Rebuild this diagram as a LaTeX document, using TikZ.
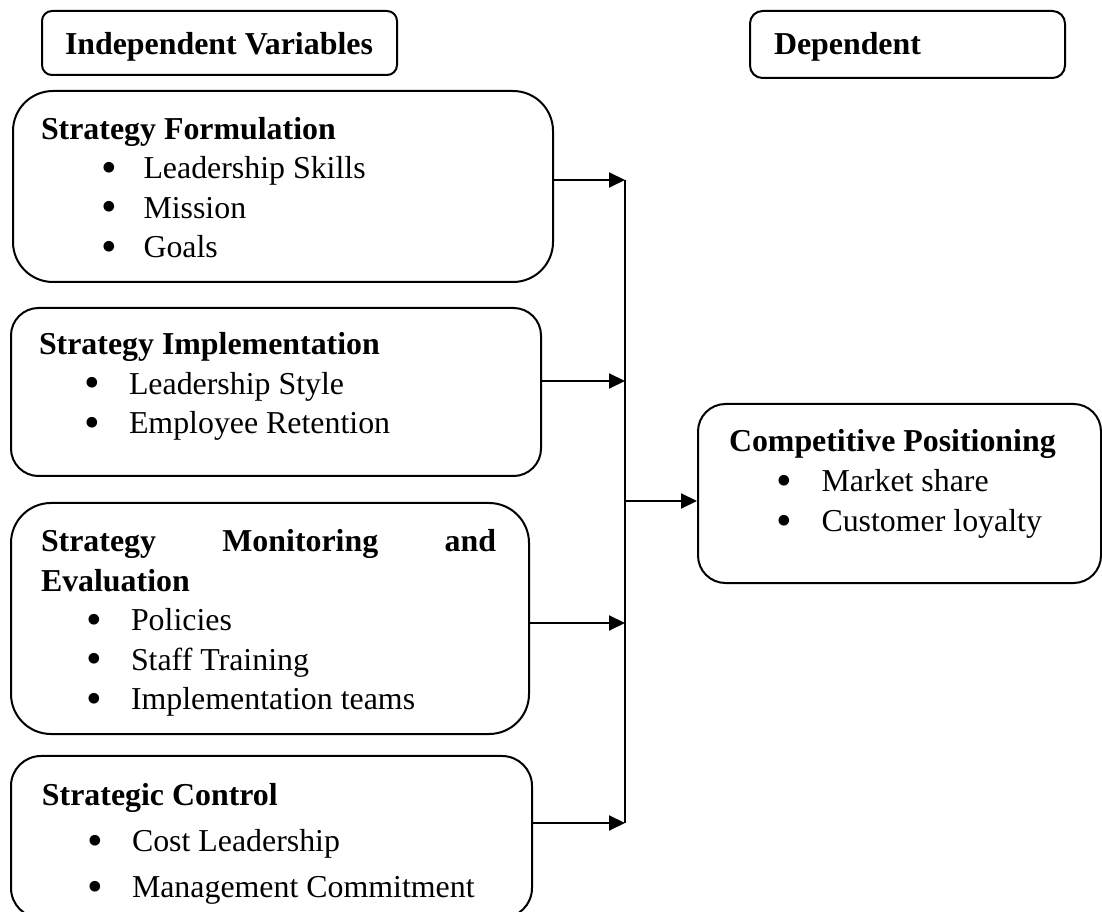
\documentclass[tikz,border=0pt]{standalone}
\usepackage{fontspec}
\setmainfont{Liberation Serif}
\usetikzlibrary{arrows.meta}

% bullet line: indent, gap to text, text
\newcommand{\bitem}[3]{\hspace*{#1}\makebox[#2][l]{\raisebox{-0.1em}[0.45em][0pt]{\scalebox{1.4}{\textbullet}}}#3}

\begin{document}
\begin{tikzpicture}[x=0.4pt, y=-0.4pt, line width=0.8pt,
  roundbox/.style={draw, rounded corners=#1, anchor=north west, inner sep=0pt},
  boxtext/.style={anchor=base west, inner sep=0pt, align=left, font=\fontsize{12.75}{15.8}\selectfont},
  headtext/.style={anchor=base west, inner sep=0pt, font=\fontsize{12.75}{15}\selectfont\bfseries},
  feed/.style={-{Triangle[length=6.4pt, width=6pt]}}]
\useasboundingbox (0,0) rectangle (1102,912);

% headings
\node[roundbox=4pt, minimum width=142pt, minimum height=25.6pt] (indep) at (41,10) {};
\node[headtext] (indep-t) at (64,55) {Independent Variables};
\node[roundbox=5pt, minimum width=126pt, minimum height=26.8pt] (dep) at (749,10) {};
\node[headtext] (dep-t) at (773,55) {Dependent};

% independent variables (text placed by the baseline of its last line)
\node[roundbox=16pt, minimum width=216pt, minimum height=76.4pt] (sf) at (12,90) {};
\node[boxtext] (sf-t) at (40,258) {\textbf{Strategy Formulation}\\
  \bitem{24pt}{17pt}{Leadership Skills}\\
  \bitem{24pt}{17pt}{Mission}\\
  \bitem{24pt}{17pt}{Goals}};

\node[roundbox=11pt, minimum width=212pt, minimum height=67.2pt] (si) at (10,307) {};
\node[boxtext] (si-t) at (38,434) {\textbf{Strategy Implementation}\\
  \bitem{18pt}{18pt}{Leadership Style}\\
  \bitem{18pt}{18pt}{Employee Retention}};

\node[roundbox=16pt, minimum width=207.2pt, minimum height=92.4pt] (sm) at (10,502) {};
\node[boxtext] (sm-t) at (40,710) {\textbf{\makebox[182pt]{Strategy\hfill Monitoring\hfill and}}\\
  \textbf{Evaluation}\\
  \bitem{18pt}{18pt}{Policies}\\
  \bitem{18pt}{18pt}{Staff Training}\\
  \bitem{18pt}{18pt}{Implementation teams}};

\node[roundbox=12pt, minimum width=208.4pt, minimum height=64.8pt] (sc) at (10,755) {};
\node[boxtext, font=\fontsize{12.75}{18.4}\selectfont] (sc-t) at (41,898) {\textbf{Strategic Control}\\
  \bitem{18pt}{18pt}{Cost Leadership}\\
  \bitem{18pt}{18pt}{Management Commitment}};

% dependent variable
\node[roundbox=11pt, minimum width=161.2pt, minimum height=71.6pt] (cp) at (697,403) {};
\node[boxtext, font=\fontsize{12.75}{16}\selectfont] (cp-t) at (728,532) {\textbf{Competitive Positioning}\\
  \bitem{19pt}{18pt}{Market share}\\
  \bitem{19pt}{18pt}{Customer loyalty}};

% bus line and arrows
\coordinate (b1) at (625,180);
\coordinate (b2) at (625,381);
\coordinate (b3) at (625,623);
\coordinate (b4) at (625,823);
\coordinate (bo) at (625,501);
\draw (b1) -- (b4);
\draw[feed] (sf.east |- b1) -- (b1);
\draw[feed] (si.east |- b2) -- (b2);
\draw[feed] (sm.east |- b3) -- (b3);
\draw[feed] (sc.east |- b4) -- (b4);
\draw[feed] (bo) -- (cp.west |- bo);
\end{tikzpicture}
\end{document}
